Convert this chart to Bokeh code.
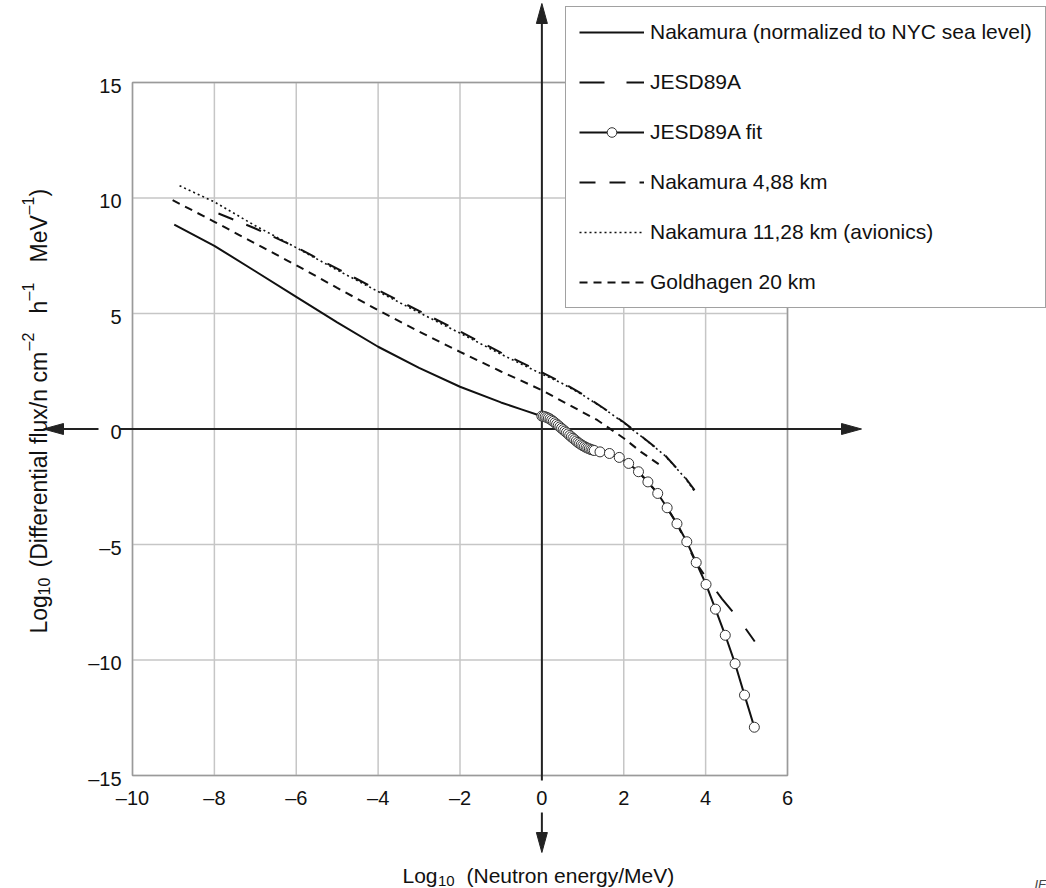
import math
from bokeh.plotting import figure
from bokeh.models import Range1d, Legend, LegendItem
from bokeh.core.properties import value
from bokeh.embed import file_html
from bokeh.resources import INLINE

FONT = "Liberation Sans"
INK = "#111111"

# ---------------- axes ----------------
X_MIN, X_MAX = -10, 6
Y_MIN, Y_MAX = -15, 15
x_ticks = [-10, -8, -6, -4, -2, 0, 2, 4, 6]
x_tick_labels = ["–10", "–8", "–6", "–4", "–2", "0", "2", "4", "6"]
y_ticks = [-15, -10, -5, 0, 5, 10, 15]
y_tick_labels = ["–15", "–10", "–5", "0", "5", "10", "15"]

# axis titles split into (text, role) pieces: role "n" normal, "sub", "sup"
x_label_parts = [("Log", "n"), ("10", "sub"), ("(Neutron energy/MeV)", "n")]
y_label_parts = [("Log", "n"), ("10", "sub"), ("(Differential flux/n cm", "n"), ("–2", "sup"),
                 ("h", "n"), ("–1", "sup"), ("MeV", "n"), ("–1", "sup"), (")", "n")]

# ---------------- data (log10 E, log10 flux) ----------------
nak_sea_x = [-8.98, -8.0, -7.0, -6.0, -5.0, -4.0, -3.0, -2.0, -1.0, -0.5, 0.0]
nak_sea_y = [8.85, 7.93, 6.83, 5.72, 4.62, 3.56, 2.65, 1.83, 1.15, 0.85, 0.55]

jesd_x = [1.42, 1.89, 2.36, 2.83, 3.30, 3.77, 4.0, 4.4, 4.8, 5.2]
jesd_y = [-0.99, -1.23, -1.85, -2.79, -4.10, -5.80, -6.40, -7.35, -8.20, -9.20]

fit_x = [0.00, 0.04, 0.08, 0.12, 0.16, 0.20, 0.24, 0.28, 0.32, 0.36, 0.40,
         0.44, 0.48, 0.52, 0.56, 0.60, 0.64, 0.68, 0.72, 0.76, 0.80, 0.84,
         0.88, 0.92, 0.96, 1.00, 1.04, 1.08, 1.12, 1.16, 1.20, 1.24, 1.28,
         1.42, 1.65, 1.89, 2.12, 2.36, 2.59, 2.83, 3.06, 3.30, 3.54, 3.77,
         4.01, 4.24, 4.48, 4.72, 4.95, 5.19]
fit_y = [0.56, 0.55, 0.53, 0.50, 0.47, 0.43, 0.38, 0.33, 0.27, 0.21, 0.15,
         0.09, 0.03, -0.03, -0.09, -0.15, -0.21, -0.28, -0.34, -0.40, -0.46, -0.52,
         -0.58, -0.63, -0.68, -0.72, -0.76, -0.80, -0.83, -0.86, -0.89, -0.91, -0.93,
         -0.99, -1.06, -1.23, -1.49, -1.85, -2.29, -2.79, -3.41, -4.10, -4.88, -5.78,
         -6.73, -7.80, -8.93, -10.16, -11.52, -12.91]

nak488_x = [-7.9, -7.0, -6.0, -5.0, -4.0, -3.0, -2.0, -1.0, 0.0, 0.5, 1.0, 1.5, 2.0, 2.5, 3.0, 3.5, 3.73]
nak488_y = [9.33, 8.68, 7.87, 6.94, 6.01, 5.11, 4.22, 3.31, 2.45, 2.01, 1.50, 0.91, 0.29, -0.41, -1.12, -2.10, -2.65]

nak1128_x = [-8.85, -8.0, -7.0, -6.0, -5.0, -4.0, -3.0, -2.0, -1.0, 0.0, 0.5, 1.0, 1.5, 2.0, 2.5, 3.0, 3.5, 3.73]
nak1128_y = [10.53, 9.83, 8.80, 7.85, 6.88, 5.95, 5.04, 4.15, 3.24, 2.38, 1.97, 1.47, 0.90, 0.27, -0.42, -1.14, -2.12, -2.70]

gold_x = [-9.02, -8.0, -7.0, -6.0, -5.0, -4.0, -3.0, -2.0, -1.0, 0.0, 0.71, 1.36, 2.01, 2.42, 2.95]
gold_y = [9.91, 8.97, 8.03, 7.09, 6.11, 5.14, 4.22, 3.34, 2.49, 1.68, 1.00, 0.38, -0.41, -0.99, -1.64]

labels = ["Nakamura (normalized to NYC sea level)", "JESD89A", "JESD89A fit",
          "Nakamura 4,88 km", "Nakamura 11,28 km (avionics)", "Goldhagen 20 km"]

# ---------------- layout (pixels) ----------------
W, H = 1046, 888
BOX_L, BOX_R, BOX_T, BOX_B = 132, 787, 82, 775
PX_X = (BOX_R - BOX_L) / (X_MAX - X_MIN)
PX_Y = (BOX_B - BOX_T) / (Y_MAX - Y_MIN)


def xd(px):
    return X_MIN + (px - BOX_L) / PX_X


def yd(py):
    return Y_MAX - (py - BOX_T) / PX_Y


p = figure(width=W, height=H, x_range=Range1d(xd(0), xd(W)), y_range=Range1d(yd(H), yd(0)),
           output_backend="svg", toolbar_location=None, title=None, min_border=0)
p.axis.visible = False
p.grid.visible = False
p.outline_line_color = None
p.background_fill_color = "white"
p.border_fill_color = "white"

# ---------------- grid box ----------------
GRID = "#c6c6c6"
p.segment(x0=x_ticks, y0=[Y_MIN] * len(x_ticks), x1=x_ticks, y1=[Y_MAX] * len(x_ticks),
          line_color=GRID, line_width=1.5)
p.segment(x0=[X_MIN] * len(y_ticks), y0=y_ticks, x1=[X_MAX] * len(y_ticks), y1=y_ticks,
          line_color=GRID, line_width=1.5)
p.quad(left=[X_MIN], right=[X_MAX], bottom=[Y_MIN], top=[Y_MAX], fill_color=None,
       line_color="#9a9a9a", line_width=1.5)

# tick labels
p.text(x=x_ticks, y=[yd(BOX_B + 22)] * len(x_ticks), text=x_tick_labels,
       text_align="center", text_baseline="middle", text_font=value(FONT),
       text_font_size="20px", text_color=INK)
p.text(x=[xd(BOX_L - 11)] * len(y_ticks), y=[t - 3 / PX_Y for t in y_ticks], text=y_tick_labels,
       text_align="right", text_baseline="middle", text_font=value(FONT),
       text_font_size="20px", text_color=INK)

# ---------------- arrow axes ----------------
AXIS_INK = "#222222"
HEAD_L, HEAD_W = 20, 5.5
ax_left_tip, ax_left_end = 43, 98        # px, horizontal axis left piece
ax_right_start, ax_right_tip = 119, 861  # px, horizontal axis right piece
ay_top_tip, ay_top_end = 3, 780          # px, vertical axis top piece
ay_bot_start, ay_bot_tip = 812, 852      # px, vertical axis bottom piece
x0_px, y0_px = BOX_L + (0 - X_MIN) * PX_X, BOX_T + (Y_MAX - 0) * PX_Y

p.segment(x0=[xd(ax_left_tip + 8), xd(ax_right_start), 0, 0],
          y0=[0, 0, yd(ay_top_tip + 8), yd(ay_bot_start)],
          x1=[xd(ax_left_end), xd(ax_right_tip - 8), 0, 0],
          y1=[0, 0, yd(ay_top_end), yd(ay_bot_tip - 8)],
          line_color=AXIS_INK, line_width=2)


def head_px(tx, ty, dx, dy):
    bx, by = tx - dx * HEAD_L, ty - dy * HEAD_L
    return ([xd(tx), xd(bx - dy * HEAD_W), xd(bx + dy * HEAD_W)],
            [yd(ty), yd(by + dx * HEAD_W), yd(by - dx * HEAD_W)])


heads = [head_px(ax_left_tip, y0_px, -1, 0), head_px(ax_right_tip, y0_px, 1, 0),
         head_px(x0_px, ay_top_tip, 0, -1), head_px(x0_px, ay_bot_tip, 0, 1)]
p.patches(xs=[h[0] for h in heads], ys=[h[1] for h in heads], fill_color=AXIS_INK,
          line_color=AXIS_INK, line_width=1)

# ---------------- curves ----------------
r_jesd = p.line(jesd_x, jesd_y, line_color=INK, line_width=2, line_dash="25 22")
r_nak = p.line(nak_sea_x, nak_sea_y, line_color=INK, line_width=2)
r_gold = p.line(gold_x, gold_y, line_color=INK, line_width=2, line_dash="8 6")
r_1128 = p.line(nak1128_x, nak1128_y, line_color=INK, line_width=1.6, line_dash="2 3")
r_488 = p.line(nak488_x, nak488_y, line_color=INK, line_width=2, line_dash="16 14")
r_fit_l = p.line(fit_x, fit_y, line_color=INK, line_width=2)
r_fit_m = p.scatter(fit_x, fit_y, marker="circle", size=10, fill_color="white",
                    line_color="#333333", line_width=1)

# ---------------- axis titles ----------------
SIZES = {"n": "21px", "sub": "15px", "sup": "15px"}
Y_SIZES = {"n": "23px", "sub": "16px", "sup": "16px"}


def txt(s, px, py, size, align="left", angle=0.0):
    p.text(x=[xd(px)], y=[yd(py)], text=[s], angle=angle, text_align=align,
           text_baseline="alphabetic", text_font=value(FONT), text_font_size=size,
           text_color=INK)


# x title: (anchor x px, baseline y px, align)
x_label_pos = [(437, 875, "right"), (437.5, 880, "left"), (466, 875, "left")]
for (s, role), (px, py, al) in zip(x_label_parts, x_label_pos):
    txt(s, px, py, SIZES[role], al)

# y title (rotated): (baseline x px, start y px)
y_label_pos = [(38, 633), (43, 595), (38, 567), (28, 350), (38, 313), (28, 300),
               (38, 262), (28, 214), (38, 196)]
for (s, role), (px, py) in zip(y_label_parts, y_label_pos):
    txt(s, px, py, Y_SIZES[role], "left", math.pi / 2)

p.text(x=[xd(1034)], y=[yd(876)], text=["IEC"], text_align="left", text_baseline="top",
       text_font=value(FONT), text_font_size="13px", text_font_style="italic",
       text_color="#444444")

# ---------------- legend ----------------
legend = Legend(items=[
    LegendItem(label=labels[0], renderers=[r_nak]),
    LegendItem(label=labels[1], renderers=[r_jesd]),
    LegendItem(label=labels[2], renderers=[r_fit_l, r_fit_m]),
    LegendItem(label=labels[3], renderers=[r_488]),
    LegendItem(label=labels[4], renderers=[r_1128]),
    LegendItem(label=labels[5], renderers=[r_gold]),
], location=(565, H - 308), orientation="vertical", glyph_width=65, glyph_height=24,
    label_height=24, label_standoff=6, spacing=26, padding=13, margin=0,
    border_line_color="#444444", border_line_width=1.5,
    background_fill_color="white", background_fill_alpha=1,
    label_text_font=FONT, label_text_font_size="21px", label_text_color=INK,
    label_text_baseline="middle")
p.add_layout(legend, "center")

open("out.html", "w").write(file_html(p, INLINE))
